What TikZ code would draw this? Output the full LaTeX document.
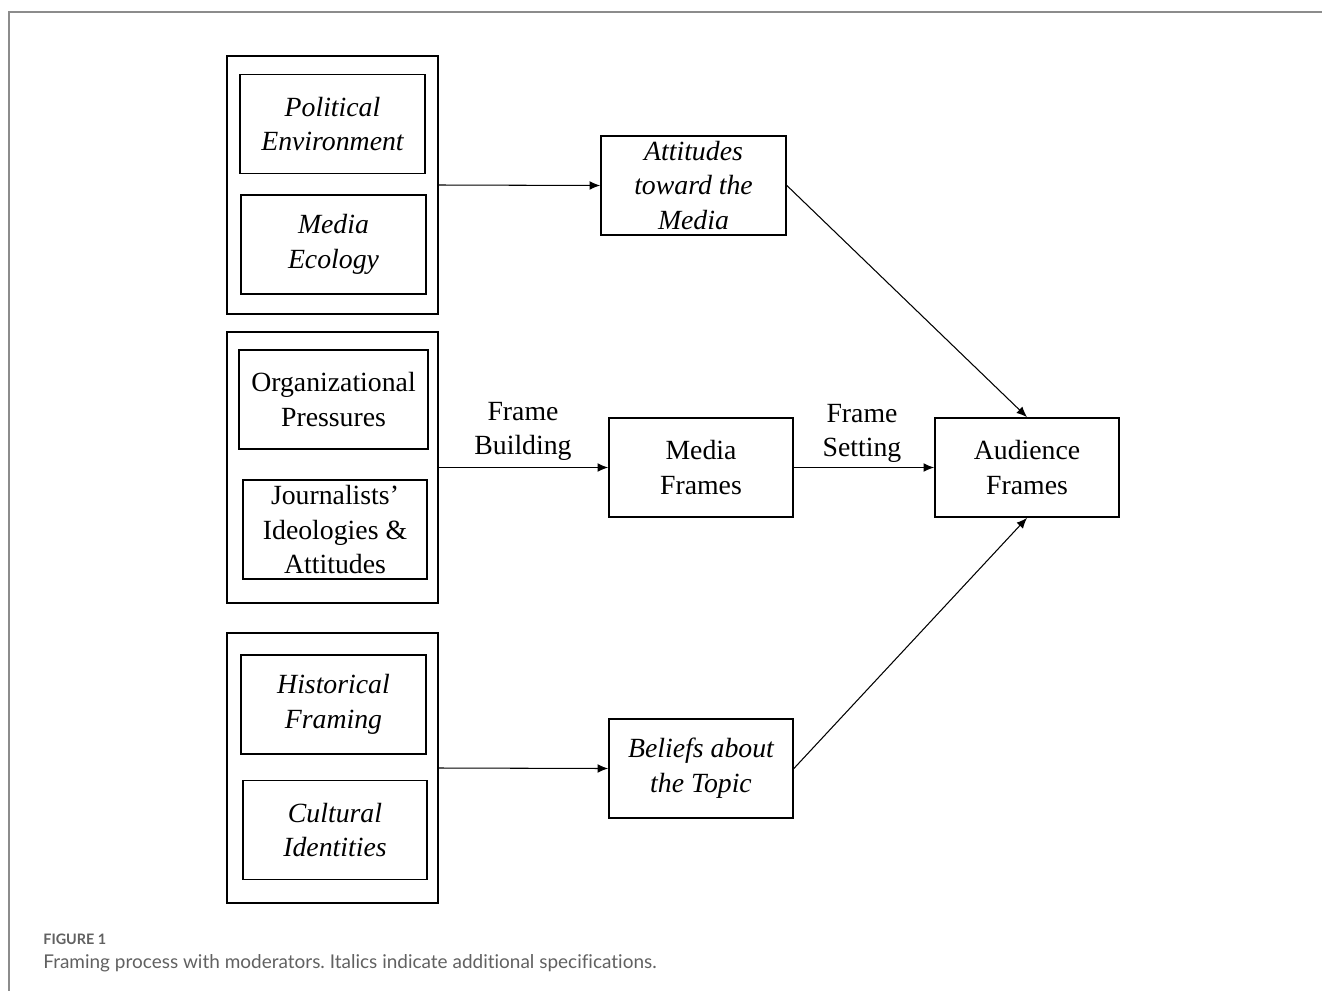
\documentclass[tikz,border=0pt]{standalone}
\usepackage{fontspec}
\setmainfont{Liberation Serif}
\newfontfamily\capfont[Ligatures=NoCommon]{Lato}
\usetikzlibrary{arrows.meta}

\definecolor{framegray}{rgb}{0.55,0.55,0.55}
\definecolor{captiongray}{rgb}{0.38,0.38,0.38}

\tikzset{
  box/.style={draw,line width=1pt,align=center,inner sep=1pt,
    minimum width=3.7cm,minimum height=1.98cm,
    font=\fontsize{15.8}{19.8}\selectfont},
  itbox/.style={box,font=\fontsize{15.8}{19.8}\selectfont\itshape},
  groupbox/.style={draw,line width=1pt,minimum width=4.22cm},
  link/.style={-{Latex[length=6pt,width=5pt]},line width=0.6pt},
  linklabel/.style={align=center,font=\fontsize{15.8}{19.8}\selectfont},
}

\begin{document}
\frenchspacing
\begin{tikzpicture}[x=0.02cm,y=-0.02cm]
\useasboundingbox (0,0) rectangle (1322,991);
\draw[framegray,line width=0.9pt] (1322,12) -- (9,12) -- (9,991);

\node[groupbox,minimum height=5.16cm] (grpone) at (332.5,185) {};
\node[groupbox,minimum height=5.42cm] (grptwo) at (332.5,467.5) {};
\node[groupbox,minimum height=5.40cm] (grpthree) at (332.5,768) {};

\node[itbox] (polenv) at (332.5,124) {Political\\Environment};
\node[itbox] (medeco) at (333.5,244.5) {Media\\Ecology};
\node[box,minimum width=3.78cm] (orgpress) at (333.5,399.5) {Organizational\\Pressures};
\node[box,minimum width=3.68cm] (journ) at (335,529.5) {Journalists’\\Ideologies \&\\Attitudes};
\node[itbox] (histfr) at (333.5,704.5) {Historical\\Framing};
\node[itbox,minimum width=3.68cm] (cultid) at (335,830) {Cultural\\Identities};

\node[itbox] (attmed) at (693.5,185.5) {Attitudes\\toward the\\Media};
\node[box,minimum width=3.68cm] (medfr) at (701,467.5) {Media\\Frames};
\node[box,minimum width=3.68cm] (audfr) at (1027,467.5) {Audience\\Frames};
\node[itbox,minimum width=3.68cm] (beltop) at (701,768.5) {Beliefs about\\the Topic};

\draw[link] (grpone.east) -- (attmed.west);
\draw[link] (grptwo.east) -- (medfr.west);
\draw[link] (grpthree.east) -- (beltop.west);
\draw[link] (medfr.east) -- (audfr.west);
\draw[link] (attmed.east) -- (audfr.north);
\draw[link] (beltop.east) -- (audfr.south);

\node[linklabel] (fbuild) at (523,431.5) {Frame\\Building};
\node[linklabel] (fset) at (862,433.5) {Frame\\Setting};

\node[anchor=west,inner sep=0pt,text=captiongray,font=\capfont\fontsize{8.2}{9}\selectfont\bfseries] (figlabel) at (43,939) {FIGURE 1};
\node[anchor=west,inner sep=0pt,text=captiongray,font=\capfont\fontsize{10.8}{12}\selectfont] (figcap) at (43,963) {Framing process with moderators. Italics indicate additional specifications.};
\end{tikzpicture}
\end{document}
